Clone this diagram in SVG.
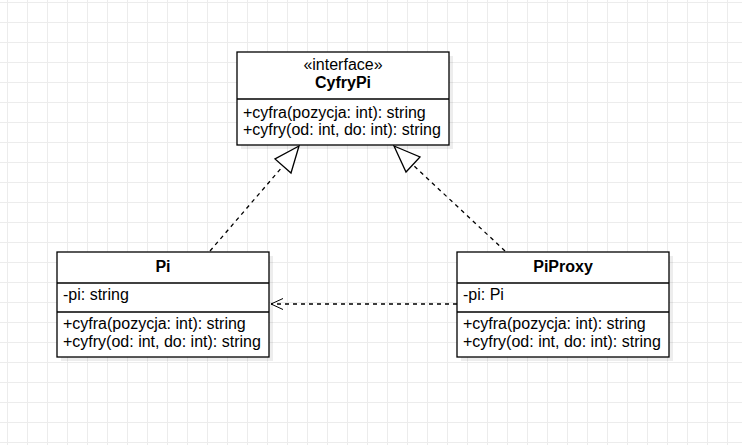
<svg xmlns="http://www.w3.org/2000/svg" width="742" height="445" viewBox="0 0 742 445">
<defs>
<pattern id="grid" x="7" y="2" width="20" height="20" patternUnits="userSpaceOnUse">
<path d="M0.5 0 V20 M0 0.5 H20" fill="none" stroke="#ececec" stroke-width="1"/>
</pattern>
<marker id="open" markerWidth="14" markerHeight="14" refX="13" refY="7" orient="auto" markerUnits="userSpaceOnUse">
<path d="M1 1.5 L13 7 L1 12.5" fill="none" stroke="#000" stroke-width="1"/>
</marker>
</defs>
<style>
.box{fill:#fff;stroke:#000;stroke-width:1.3}
.sh{fill:#000;opacity:0.07}
.div{stroke:#000;stroke-width:1.3}
text{font-family:"Liberation Sans",Arial,sans-serif;font-size:16px;fill:#000}
.b{font-weight:bold}
.c{text-anchor:middle}
.dash{fill:none;stroke:#000;stroke-width:1.3;stroke-dasharray:4 4}
.tri{fill:#fff;stroke:#000;stroke-width:1.3}
</style>
<rect width="742" height="445" fill="#fff"/>
<rect width="742" height="445" fill="url(#grid)"/>
<g id="connectors">
<path class="dash" d="M210 251 L283 166"/>
<polygon class="tri" points="299,146 275,159 291,173"/>
<path class="dash" d="M505 251 L413 165"/>
<polygon class="tri" points="394,146 420,157 406,172"/>
<path class="dash" d="M457 304 L271 304" marker-end="url(#open)"/>
</g>
<g id="CyfryPi">
<rect class="sh" x="241" y="56" width="212" height="93"/>
<rect class="box" x="237" y="52" width="212" height="93"/>
<line class="div" x1="237" y1="99" x2="449" y2="99"/>
<text class="c" x="343" y="70">«interface»</text>
<text class="c b" x="343" y="88">CyfryPi</text>
<text x="243" y="118">+cyfra(pozycja: int): string</text>
<text x="243" y="135">+cyfry(od: int, do: int): string</text>
</g>
<g id="Pi">
<rect class="sh" x="61" y="256" width="212" height="105"/>
<rect class="box" x="57" y="252" width="212" height="105"/>
<line class="div" x1="57" y1="283" x2="269" y2="283"/>
<line class="div" x1="57" y1="312" x2="269" y2="312"/>
<text class="c b" x="163" y="272">Pi</text>
<text x="63" y="300">-pi: string</text>
<text x="63" y="329">+cyfra(pozycja: int): string</text>
<text x="63" y="347">+cyfry(od: int, do: int): string</text>
</g>
<g id="PiProxy">
<rect class="sh" x="461" y="256" width="212" height="105"/>
<rect class="box" x="457" y="252" width="212" height="105"/>
<line class="div" x1="457" y1="283" x2="669" y2="283"/>
<line class="div" x1="457" y1="312" x2="669" y2="312"/>
<text class="c b" x="563" y="272">PiProxy</text>
<text x="463" y="300">-pi: Pi</text>
<text x="463" y="329">+cyfra(pozycja: int): string</text>
<text x="463" y="347">+cyfry(od: int, do: int): string</text>
</g>
</svg>
